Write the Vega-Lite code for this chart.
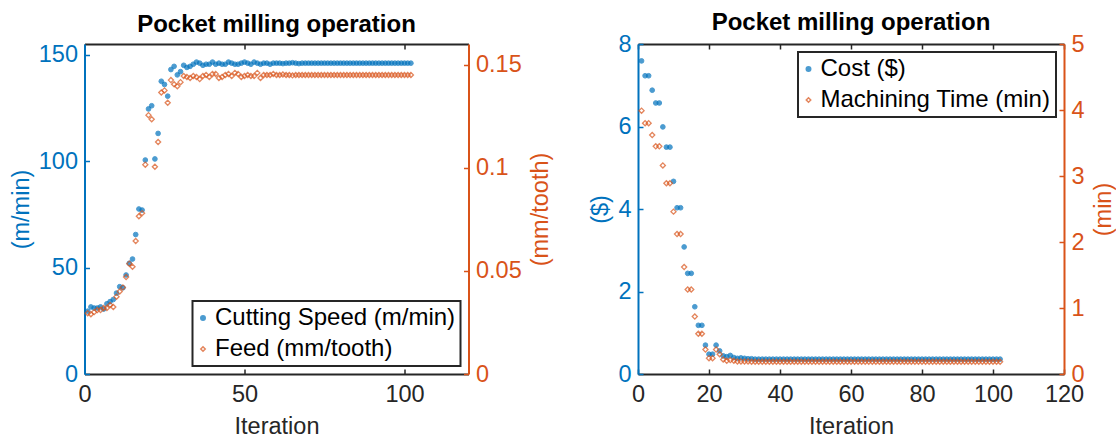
{
  "$schema": "https://vega.github.io/schema/vega-lite/v6.json",
  "padding": {"left": 8.5, "top": 11, "right": 0, "bottom": 0},
  "spacing": 35.5,
  "background": "white",
  "config": {
    "font": "Liberation Sans",
    "view": {"stroke": null},
    "axis": {
      "grid": false,
      "labelFont": "Liberation Sans",
      "titleFont": "Liberation Sans",
      "labelFontSize": 23.5,
      "titleFontSize": 23.5,
      "titleFontWeight": "normal",
      "tickSize": -5,
      "tickWidth": 1.5,
      "domainWidth": 2,
      "labelFlush": false,
      "labelOverlap": false,
      "format": "~r"
    },
    "title": {"fontSize": 24, "fontWeight": "bold", "color": "black", "offset": 6, "anchor": "middle", "frame": "group", "font": "Liberation Sans"},
    "legend": {
      "labelFont": "Liberation Sans",
      "labelFontSize": 24,
      "labelColor": "black",
      "strokeColor": "#262626",
      "strokeWidth": 2,
      "fillColor": "white",
      "padding": 5,
      "rowPadding": 7,
      "symbolSize": 20,
      "symbolStrokeWidth": 1.5,
      "symbolOffset": -6.5,
      "labelOffset": 0,
      "offset": 8,
      "labelLimit": 400
    }
  },
  "datasets": {
    "left": [
      {"iteration":1,"speed":29.5,"feed":0.0295},{"iteration":2,"speed":31.5,"feed":0.029},{"iteration":3,"speed":31,"feed":0.030},{"iteration":4,"speed":31,"feed":0.031},{"iteration":5,"speed":31.5,"feed":0.031},{"iteration":6,"speed":30.5,"feed":0.032},{"iteration":7,"speed":33,"feed":0.032},{"iteration":8,"speed":34,"feed":0.0335},{"iteration":9,"speed":35,"feed":0.0325},{"iteration":10,"speed":38,"feed":0.0375},
      {"iteration":11,"speed":41,"feed":0.040},{"iteration":12,"speed":40.5,"feed":0.042},{"iteration":13,"speed":46.5,"feed":0.047},{"iteration":14,"speed":52,"feed":0.0535},{"iteration":15,"speed":54,"feed":0.052},{"iteration":16,"speed":65.5,"feed":0.0645},{"iteration":17,"speed":77.5,"feed":0.0765},{"iteration":18,"speed":77,"feed":0.078},{"iteration":19,"speed":100.5,"feed":0.1015},{"iteration":20,"speed":124.5,"feed":0.1255},
      {"iteration":21,"speed":126,"feed":0.1235},{"iteration":22,"speed":101,"feed":0.1005},{"iteration":23,"speed":113,"feed":0.1125},{"iteration":24,"speed":137.5,"feed":0.1365},{"iteration":25,"speed":136,"feed":0.1375},{"iteration":26,"speed":130.5,"feed":0.1315},{"iteration":27,"speed":143,"feed":0.1425},{"iteration":28,"speed":144.5,"feed":0.1405},{"iteration":29,"speed":140.5,"feed":0.1395},{"iteration":30,"speed":142,"feed":0.1415},
      {"iteration":31,"speed":145,"feed":0.1445},{"iteration":32,"speed":144,"feed":0.144},{"iteration":33,"speed":144.5,"feed":0.1435},{"iteration":34,"speed":145.5,"feed":0.1445},{"iteration":35,"speed":146.5,"feed":0.144},{"iteration":36,"speed":146,"feed":0.143},{"iteration":37,"speed":145,"feed":0.1445},{"iteration":38,"speed":145.5,"feed":0.145},{"iteration":39,"speed":145.5,"feed":0.144},{"iteration":40,"speed":146.5,"feed":0.1455},
      {"iteration":41,"speed":145.5,"feed":0.1455},{"iteration":42,"speed":146,"feed":0.1435},{"iteration":43,"speed":145.5,"feed":0.144},{"iteration":44,"speed":145.5,"feed":0.145},{"iteration":45,"speed":146.5,"feed":0.1455},{"iteration":46,"speed":146,"feed":0.1445},{"iteration":47,"speed":145.5,"feed":0.146},{"iteration":48,"speed":145.5,"feed":0.1455},{"iteration":49,"speed":146,"feed":0.144},{"iteration":50,"speed":146.5,"feed":0.1445},
      {"iteration":51,"speed":146,"feed":0.145},{"iteration":52,"speed":145.5,"feed":0.1445},{"iteration":53,"speed":146.5,"feed":0.1445},{"iteration":54,"speed":146,"feed":0.146},{"iteration":55,"speed":145.5,"feed":0.1435},{"iteration":56,"speed":146,"feed":0.145},{"iteration":57,"speed":146,"feed":0.145},{"iteration":58,"speed":145.5,"feed":0.145},{"iteration":59,"speed":146,"feed":0.1455},{"iteration":60,"speed":146,"feed":0.145},
      {"iteration":61,"speed":146,"feed":0.145},{"iteration":62,"speed":145.8,"feed":0.1452},{"iteration":63,"speed":146,"feed":0.145},{"iteration":64,"speed":146,"feed":0.145},{"iteration":65,"speed":146.2,"feed":0.1448},{"iteration":66,"speed":146,"feed":0.145},{"iteration":67,"speed":145.8,"feed":0.145},{"iteration":68,"speed":146,"feed":0.145},{"iteration":69,"speed":146,"feed":0.145},{"iteration":70,"speed":146,"feed":0.145},
      {"iteration":71,"speed":146,"feed":0.145},{"iteration":72,"speed":146,"feed":0.145},{"iteration":73,"speed":146,"feed":0.145},{"iteration":74,"speed":146,"feed":0.145},{"iteration":75,"speed":146,"feed":0.145},{"iteration":76,"speed":146,"feed":0.145},{"iteration":77,"speed":146,"feed":0.145},{"iteration":78,"speed":146,"feed":0.145},{"iteration":79,"speed":146,"feed":0.145},{"iteration":80,"speed":146,"feed":0.145},
      {"iteration":81,"speed":146,"feed":0.145},{"iteration":82,"speed":146,"feed":0.145},{"iteration":83,"speed":146,"feed":0.145},{"iteration":84,"speed":146,"feed":0.145},{"iteration":85,"speed":146,"feed":0.145},{"iteration":86,"speed":146,"feed":0.145},{"iteration":87,"speed":146,"feed":0.145},{"iteration":88,"speed":146,"feed":0.145},{"iteration":89,"speed":146,"feed":0.145},{"iteration":90,"speed":146,"feed":0.145},
      {"iteration":91,"speed":146,"feed":0.145},{"iteration":92,"speed":146,"feed":0.145},{"iteration":93,"speed":146,"feed":0.145},{"iteration":94,"speed":146,"feed":0.145},{"iteration":95,"speed":146,"feed":0.145},{"iteration":96,"speed":146,"feed":0.145},{"iteration":97,"speed":146,"feed":0.145},{"iteration":98,"speed":146,"feed":0.145},{"iteration":99,"speed":146,"feed":0.145},{"iteration":100,"speed":146,"feed":0.145},
      {"iteration":101,"speed":146,"feed":0.145},{"iteration":102,"speed":146,"feed":0.145}
    ],
    "right": [
      {"iteration":1,"cost":7.59,"time":3.99},{"iteration":2,"cost":7.23,"time":3.80},{"iteration":3,"cost":7.23,"time":3.80},{"iteration":4,"cost":6.88,"time":3.62},{"iteration":5,"cost":6.57,"time":3.45},{"iteration":6,"cost":6.57,"time":3.45},{"iteration":7,"cost":5.99,"time":3.16},{"iteration":8,"cost":5.50,"time":2.89},{"iteration":9,"cost":5.50,"time":2.89},{"iteration":10,"cost":4.67,"time":2.46},
      {"iteration":11,"cost":4.03,"time":2.12},{"iteration":12,"cost":4.03,"time":2.12},{"iteration":13,"cost":3.08,"time":1.62},{"iteration":14,"cost":2.44,"time":1.28},{"iteration":15,"cost":2.44,"time":1.28},{"iteration":16,"cost":1.63,"time":0.87},{"iteration":17,"cost":1.18,"time":0.61},{"iteration":18,"cost":1.18,"time":0.61},{"iteration":19,"cost":0.70,"time":0.37},{"iteration":20,"cost":0.48,"time":0.24},
      {"iteration":21,"cost":0.48,"time":0.24},{"iteration":22,"cost":0.70,"time":0.37},{"iteration":23,"cost":0.56,"time":0.30},{"iteration":24,"cost":0.44,"time":0.22},{"iteration":25,"cost":0.42,"time":0.20},{"iteration":26,"cost":0.45,"time":0.21},{"iteration":27,"cost":0.40,"time":0.20},{"iteration":28,"cost":0.38,"time":0.19},{"iteration":29,"cost":0.39,"time":0.19},{"iteration":30,"cost":0.38,"time":0.19},
      {"iteration":31,"cost":0.37,"time":0.19},{"iteration":32,"cost":0.37,"time":0.185},{"iteration":33,"cost":0.36,"time":0.185},{"iteration":34,"cost":0.36,"time":0.185},{"iteration":35,"cost":0.36,"time":0.185},{"iteration":36,"cost":0.36,"time":0.185},{"iteration":37,"cost":0.36,"time":0.185},{"iteration":38,"cost":0.36,"time":0.185},{"iteration":39,"cost":0.36,"time":0.185},{"iteration":40,"cost":0.36,"time":0.185},
      {"iteration":41,"cost":0.36,"time":0.185},{"iteration":42,"cost":0.36,"time":0.185},{"iteration":43,"cost":0.36,"time":0.185},{"iteration":44,"cost":0.36,"time":0.185},{"iteration":45,"cost":0.36,"time":0.185},{"iteration":46,"cost":0.36,"time":0.185},{"iteration":47,"cost":0.36,"time":0.185},{"iteration":48,"cost":0.36,"time":0.185},{"iteration":49,"cost":0.36,"time":0.185},{"iteration":50,"cost":0.36,"time":0.185},
      {"iteration":51,"cost":0.36,"time":0.185},{"iteration":52,"cost":0.36,"time":0.185},{"iteration":53,"cost":0.36,"time":0.185},{"iteration":54,"cost":0.36,"time":0.185},{"iteration":55,"cost":0.36,"time":0.185},{"iteration":56,"cost":0.36,"time":0.185},{"iteration":57,"cost":0.36,"time":0.185},{"iteration":58,"cost":0.36,"time":0.185},{"iteration":59,"cost":0.36,"time":0.185},{"iteration":60,"cost":0.36,"time":0.185},
      {"iteration":61,"cost":0.36,"time":0.185},{"iteration":62,"cost":0.36,"time":0.185},{"iteration":63,"cost":0.36,"time":0.185},{"iteration":64,"cost":0.36,"time":0.185},{"iteration":65,"cost":0.36,"time":0.185},{"iteration":66,"cost":0.36,"time":0.185},{"iteration":67,"cost":0.36,"time":0.185},{"iteration":68,"cost":0.36,"time":0.185},{"iteration":69,"cost":0.36,"time":0.185},{"iteration":70,"cost":0.36,"time":0.185},
      {"iteration":71,"cost":0.36,"time":0.185},{"iteration":72,"cost":0.36,"time":0.185},{"iteration":73,"cost":0.36,"time":0.185},{"iteration":74,"cost":0.36,"time":0.185},{"iteration":75,"cost":0.36,"time":0.185},{"iteration":76,"cost":0.36,"time":0.185},{"iteration":77,"cost":0.36,"time":0.185},{"iteration":78,"cost":0.36,"time":0.185},{"iteration":79,"cost":0.36,"time":0.185},{"iteration":80,"cost":0.36,"time":0.185},
      {"iteration":81,"cost":0.36,"time":0.185},{"iteration":82,"cost":0.36,"time":0.185},{"iteration":83,"cost":0.36,"time":0.185},{"iteration":84,"cost":0.36,"time":0.185},{"iteration":85,"cost":0.36,"time":0.185},{"iteration":86,"cost":0.36,"time":0.185},{"iteration":87,"cost":0.36,"time":0.185},{"iteration":88,"cost":0.36,"time":0.185},{"iteration":89,"cost":0.36,"time":0.185},{"iteration":90,"cost":0.36,"time":0.185},
      {"iteration":91,"cost":0.36,"time":0.185},{"iteration":92,"cost":0.36,"time":0.185},{"iteration":93,"cost":0.36,"time":0.185},{"iteration":94,"cost":0.36,"time":0.185},{"iteration":95,"cost":0.36,"time":0.185},{"iteration":96,"cost":0.36,"time":0.185},{"iteration":97,"cost":0.36,"time":0.185},{"iteration":98,"cost":0.36,"time":0.185},{"iteration":99,"cost":0.36,"time":0.185},{"iteration":100,"cost":0.36,"time":0.185},
      {"iteration":101,"cost":0.36,"time":0.185},{"iteration":102,"cost":0.36,"time":0.185}
    ]
  },
  "resolve": {
    "scale": {"fill": "independent", "stroke": "independent", "shape": "independent"},
    "legend": {"fill": "independent", "stroke": "independent", "shape": "independent"}
  },
  "hconcat": [
    {
      "title": {"text": "Pocket milling operation", "offset": 6},
      "width": 384,
      "height": 330,
      "data": {"name": "left"},
      "layer": [
        {
          "mark": {"type": "point", "size": 22, "strokeWidth": 1},
          "encoding": {
            "x": {"field": "iteration", "type": "quantitative", "scale": {"domain": [0, 120], "nice": false},
                  "axis": {"orient": "bottom", "title": "Iteration", "values": [0, 50, 100], "labelColor": "#262626", "titleColor": "#262626", "domainColor": "#262626", "tickColor": "#262626", "labelPadding": 13, "titlePadding": 9}},
            "y": {"field": "speed", "type": "quantitative", "scale": {"domain": [0, 155], "nice": false},
                  "axis": {"orient": "left", "title": "(m/min)", "values": [0, 50, 100, 150], "labelColor": "#0072BD", "titleColor": "#0072BD", "domainColor": "#0072BD", "tickColor": "#0072BD", "labelPadding": 12, "titlePadding": 5}},
            "fill": {"datum": "Cutting Speed (m/min)", "scale": {"domain": ["Cutting Speed (m/min)", "Feed (mm/tooth)"], "range": ["#0072BD", "transparent"]}, "legend": {"title": null, "orient": "bottom-right"}},
            "stroke": {"datum": "Cutting Speed (m/min)", "scale": {"domain": ["Cutting Speed (m/min)", "Feed (mm/tooth)"], "range": ["#0072BD", "#D95319"]}, "legend": {"title": null, "orient": "bottom-right"}},
            "shape": {"datum": "Cutting Speed (m/min)", "scale": {"domain": ["Cutting Speed (m/min)", "Feed (mm/tooth)"], "range": ["circle", "diamond"]}, "legend": {"title": null, "orient": "bottom-right"}}
          }
        },
        {
          "mark": {"type": "point", "size": 26, "strokeWidth": 1.3},
          "encoding": {
            "x": {"field": "iteration", "type": "quantitative",
                  "axis": {"orient": "top", "title": null, "labels": false, "values": [0, 50, 100], "domainColor": "#262626", "tickColor": "#262626"}},
            "y": {"field": "feed", "type": "quantitative", "scale": {"domain": [0, 0.16], "nice": false},
                  "axis": {"orient": "right", "title": "(mm/tooth)", "values": [0, 0.05, 0.1, 0.15], "labelColor": "#D95319", "titleColor": "#D95319", "domainColor": "#D95319", "tickColor": "#D95319", "labelPadding": 12, "titlePadding": 7, "titleAngle": -90, "titleBaseline": "top"}},
            "fill": {"datum": "Feed (mm/tooth)"},
            "stroke": {"datum": "Feed (mm/tooth)"},
            "shape": {"datum": "Feed (mm/tooth)"}
          }
        }
      ],
      "resolve": {"scale": {"y": "independent"}, "axis": {"x": "independent", "y": "independent"}}
    },
    {
      "title": {"text": "Pocket milling operation", "offset": -3},
      "width": 426,
      "height": 330,
      "data": {"name": "right"},
      "layer": [
        {
          "mark": {"type": "point", "size": 22, "strokeWidth": 1},
          "encoding": {
            "x": {"field": "iteration", "type": "quantitative", "scale": {"domain": [0, 120], "nice": false},
                  "axis": {"orient": "bottom", "title": "Iteration", "values": [0, 20, 40, 60, 80, 100, 120], "labelColor": "#262626", "titleColor": "#262626", "domainColor": "#262626", "tickColor": "#262626", "labelPadding": 13, "titlePadding": 9}},
            "y": {"field": "cost", "type": "quantitative", "scale": {"domain": [0, 8], "nice": false},
                  "axis": {"orient": "left", "title": "($)", "values": [0, 2, 4, 6, 8], "labelColor": "#0072BD", "titleColor": "#0072BD", "domainColor": "#0072BD", "tickColor": "#0072BD", "labelPadding": 12, "titlePadding": 5}},
            "fill": {"datum": "Cost ($)", "scale": {"domain": ["Cost ($)", "Machining Time (min)"], "range": ["#0072BD", "transparent"]}, "legend": {"title": null, "orient": "top-right"}},
            "stroke": {"datum": "Cost ($)", "scale": {"domain": ["Cost ($)", "Machining Time (min)"], "range": ["#0072BD", "#D95319"]}, "legend": {"title": null, "orient": "top-right"}},
            "shape": {"datum": "Cost ($)", "scale": {"domain": ["Cost ($)", "Machining Time (min)"], "range": ["circle", "diamond"]}, "legend": {"title": null, "orient": "top-right"}}
          }
        },
        {
          "mark": {"type": "point", "size": 26, "strokeWidth": 1.3},
          "encoding": {
            "x": {"field": "iteration", "type": "quantitative",
                  "axis": {"orient": "top", "title": null, "labels": false, "values": [0, 20, 40, 60, 80, 100, 120], "domainColor": "#262626", "tickColor": "#262626"}},
            "y": {"field": "time", "type": "quantitative", "scale": {"domain": [0, 5], "nice": false},
                  "axis": {"orient": "right", "title": "(min)", "values": [0, 1, 2, 3, 4, 5], "labelColor": "#D95319", "titleColor": "#D95319", "domainColor": "#D95319", "tickColor": "#D95319", "labelPadding": 12, "titlePadding": 7, "titleAngle": -90, "titleBaseline": "top"}},
            "fill": {"datum": "Machining Time (min)"},
            "stroke": {"datum": "Machining Time (min)"},
            "shape": {"datum": "Machining Time (min)"}
          }
        }
      ],
      "resolve": {"scale": {"y": "independent"}, "axis": {"x": "independent", "y": "independent"}}
    }
  ]
}
